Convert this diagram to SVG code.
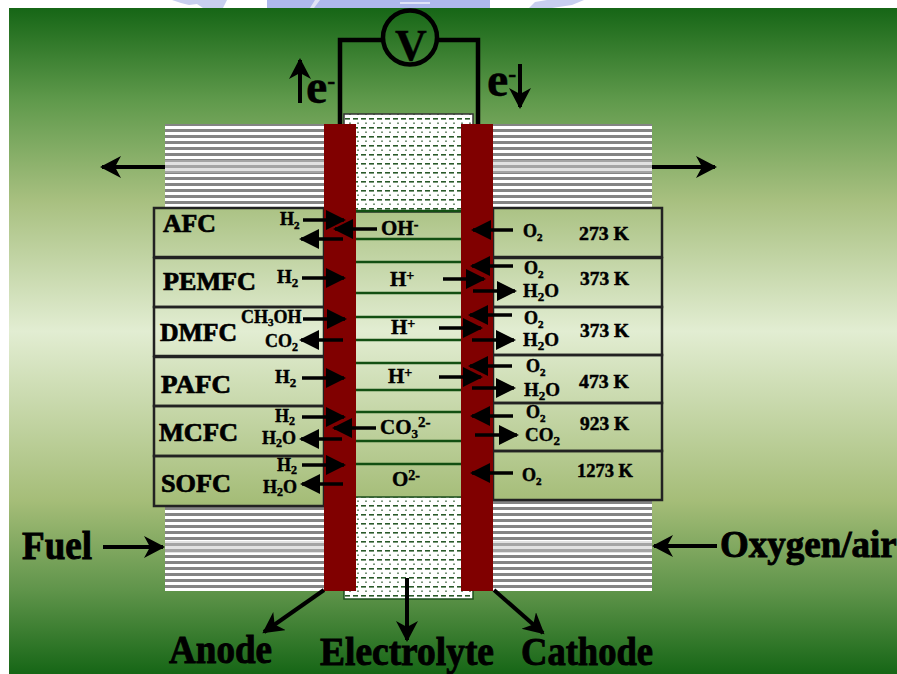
<svg xmlns="http://www.w3.org/2000/svg" width="897" height="674" viewBox="0 0 897 674">
<style>
text{font-family:"Liberation Serif","Times New Roman",serif;font-weight:bold;fill:#000;stroke:#000;stroke-width:.4}
.s{font-size:19px}.c{font-size:21px}.x{font-size:18px}.m{font-size:25px;stroke-width:.7}.l{font-size:39px;stroke-width:.9}.t{font-size:18px;stroke-width:.5}
.n{fill:none;stroke:#000;stroke-width:4.5}
.box{stroke:#222;stroke-width:2.5;fill:none}
.a{stroke:#000;stroke-width:3.5;fill:none;marker-end:url(#h)}
.b{stroke:#000;stroke-width:4;fill:none;marker-end:url(#o)}
</style>
<defs>
<linearGradient id="bg" gradientUnits="userSpaceOnUse" x1="0" y1="8" x2="0" y2="674">
<stop offset="0" stop-color="#166616"/><stop offset=".14" stop-color="#609a4c"/><stop offset=".29" stop-color="#a8c080"/><stop offset=".485" stop-color="#e2edd2"/><stop offset=".74" stop-color="#a5bd78"/><stop offset=".875" stop-color="#5f944a"/><stop offset="1" stop-color="#166616"/>
</linearGradient>
<pattern id="st" width="6" height="6" patternUnits="userSpaceOnUse"><rect width="6" height="6" fill="#fff"/><rect y="3" width="6" height="3" fill="#848484"/></pattern>
<pattern id="dot" width="8" height="9" patternUnits="userSpaceOnUse"><rect width="8" height="9" fill="#fff"/><rect x="1" y="1" width="5" height="1.6" fill="#2a5a2a"/><rect x="5" y="5.5" width="2" height="1.4" fill="#6a8a6a"/></pattern>
<marker id="h" markerUnits="userSpaceOnUse" markerWidth="22" markerHeight="22" refX="18" refY="10" orient="auto"><path d="M0 0L20 10L0 20z" fill="#000"/></marker>
<marker id="o" markerUnits="userSpaceOnUse" markerWidth="24" markerHeight="24" refX="19" refY="11" orient="auto"><path d="M0 0L21 11L0 22L6 11z" fill="#000"/></marker>
</defs>
<rect width="897" height="674" fill="#fff"/>
<g id="watermark"><path d="M172 0h55l-4 8h-20l-6-4-8 1-8-2z" fill="#c8cfef"/><path d="M267 0h223v8H267z" fill="#aeb8ec"/><path d="M315 0h5l-6 8h-4zM400 2h30v2h-30z" fill="#dfe3f6"/><path d="M529 8l6-6 12-2h37l-12 5-20 3z" fill="#c8cfef"/></g>
<rect id="background" x="9" y="8" width="888" height="666" fill="url(#bg)"/>
<g id="gdl-left"><rect x="165" y="124" width="160" height="84" fill="url(#st)"/><rect x="165" y="507" width="160" height="84" fill="url(#st)"/><rect x="165" y="160" width="160" height="13" fill="#c4c4c4" opacity=".5"/><rect x="165" y="541" width="160" height="12" fill="#c4c4c4" opacity=".5"/></g>
<g id="gdl-right"><rect x="492" y="124" width="160" height="84" fill="url(#st)"/><rect x="492" y="500" width="160" height="91" fill="url(#st)"/><rect x="492" y="160" width="160" height="13" fill="#c4c4c4" opacity=".5"/><rect x="492" y="541" width="160" height="12" fill="#c4c4c4" opacity=".5"/></g>
<g id="electrolyte"><rect x="344" y="114" width="129" height="98" fill="url(#dot)" stroke="#333" stroke-width="1.5"/><rect x="344" y="497" width="129" height="102" fill="url(#dot)" stroke="#1c4f1c" stroke-width="1.5"/></g>
<g id="cells">
<rect class="box" x="154" y="208" width="170" height="49"/>
<rect class="box" x="154" y="258" width="170" height="49"/>
<rect class="box" x="154" y="307" width="170" height="49"/>
<rect class="box" x="154" y="357" width="170" height="49"/>
<rect class="box" x="154" y="406" width="170" height="50"/>
<rect class="box" x="154" y="456" width="170" height="50"/>
<rect class="box" x="493" y="208" width="169" height="49"/>
<rect class="box" x="493" y="258" width="169" height="49"/>
<rect class="box" x="493" y="307" width="169" height="48"/>
<rect class="box" x="493" y="355" width="169" height="48"/>
<rect class="box" x="493" y="403" width="169" height="48"/>
<rect class="box" x="493" y="451" width="169" height="49"/>
<path d="M356 211H461M356 239H461M356 262H461M356 293H461M356 317H461M356 340H461M356 363H461M356 390H461M356 412H461M356 441H461M356 464H461" fill="none" stroke="#124f12" stroke-width="2.5"/>
</g>
<g id="anode"><rect x="324" y="124" width="32" height="467" fill="#800000"/></g>
<g id="cathode"><rect x="461" y="124" width="32" height="467" fill="#800000"/></g>
<g id="connectors">
<path class="n" d="M340 124V40H382M437 40H478V124"/>
<path class="b" d="M300 103V60"/>
<path class="b" d="M520 64V107"/>
<path class="b" d="M165 167H102"/>
<path class="b" d="M652 167H715"/>
<path class="b" d="M103 547H163"/>
<path class="b" d="M717 546H654"/>
<path class="b" d="M324 590L264 632"/>
<path class="b" d="M407 578V640"/>
<path class="b" d="M494 590L543 633"/>
<path class="a" d="M303 220H344"/><path class="a" d="M377 229H335"/><path class="a" d="M343 239H301"/><path class="a" d="M513 230H473"/>
<path class="a" d="M302 278H344"/><path class="a" d="M443 279H484"/><path class="a" d="M513 266H472"/><path class="a" d="M473 291H515"/>
<path class="a" d="M303 319H345"/><path class="a" d="M343 340H301"/><path class="a" d="M439 328H481"/><path class="a" d="M512 315H470"/><path class="a" d="M472 340H514"/>
<path class="a" d="M302 378H344"/><path class="a" d="M439 377H481"/><path class="a" d="M512 366H470"/><path class="a" d="M472 388H514"/>
<path class="a" d="M302 417H344"/><path class="a" d="M376 428H334"/><path class="a" d="M342 439H301"/><path class="a" d="M513 416H472"/><path class="a" d="M475 435H517"/>
<path class="a" d="M302 465H344"/><path class="a" d="M343 484H302"/><path class="a" d="M513 473H472"/>
</g>
<g id="voltmeter"><circle cx="410" cy="37.500" r="27" fill="none" stroke="#000" stroke-width="4.500"/><text x="411" y="60" text-anchor="middle" font-size="44">V</text></g>
<g id="labels">
<text x="306" y="103" font-size="48">e<tspan font-size="24" dy="-14">-</tspan></text>
<text x="487" y="96" font-size="48">e<tspan font-size="24" dy="-14">-</tspan></text>
<text class="m" x="163" y="232" textLength="53" lengthAdjust="spacingAndGlyphs">AFC</text><text class="m" x="163" y="290" textLength="93" lengthAdjust="spacingAndGlyphs">PEMFC</text><text class="m" x="160" y="341" textLength="77" lengthAdjust="spacingAndGlyphs">DMFC</text><text class="m" x="161" y="393" textLength="70" lengthAdjust="spacingAndGlyphs">PAFC</text><text class="m" x="159" y="441" textLength="79" lengthAdjust="spacingAndGlyphs">MCFC</text><text class="m" x="161" y="492" textLength="70" lengthAdjust="spacingAndGlyphs">SOFC</text>
<text class="t" x="280" y="225">H<tspan font-size="11" dy="4">2</tspan></text>
<text class="s" x="277" y="283">H<tspan font-size="13" dy="4">2</tspan></text>
<text class="x" x="241" y="323">CH<tspan font-size="11" dy="3">3</tspan><tspan dy="-3">OH</tspan></text>
<text class="x" x="265" y="347">CO<tspan font-size="12" dy="4">2</tspan></text>
<text class="s" x="275" y="383">H<tspan font-size="13" dy="4">2</tspan></text>
<text class="x" x="275" y="422">H<tspan font-size="12" dy="3">2</tspan></text>
<text class="x" x="262" y="444">H<tspan font-size="12" dy="3">2</tspan><tspan dy="-3">O</tspan></text>
<text class="x" x="277" y="471">H<tspan font-size="12" dy="3">2</tspan></text>
<text class="x" x="263" y="493">H<tspan font-size="12" dy="3">2</tspan><tspan dy="-3">O</tspan></text>
<text class="c" x="381" y="235">OH<tspan font-size="14" dy="-6">-</tspan></text>
<text class="c" x="390" y="286">H<tspan font-size="14" dy="-6">+</tspan></text>
<text class="c" x="391" y="334">H<tspan font-size="14" dy="-6">+</tspan></text>
<text class="c" x="388" y="383">H<tspan font-size="14" dy="-6">+</tspan></text>
<text class="c" x="380" y="434">CO<tspan font-size="13" dy="4">3</tspan><tspan font-size="15" dy="-11">2-</tspan></text>
<text class="c" x="392" y="486">O<tspan font-size="14" dy="-6">2-</tspan></text>
<text class="t" x="523" y="237">O<tspan font-size="11" dy="4">2</tspan></text>
<text class="t" x="524" y="274">O<tspan font-size="11" dy="4">2</tspan></text>
<text class="s" x="523" y="297">H<tspan font-size="13" dy="4">2</tspan><tspan dy="-4">O</tspan></text>
<text class="t" x="524" y="324">O<tspan font-size="11" dy="4">2</tspan></text>
<text class="s" x="523" y="346">H<tspan font-size="13" dy="4">2</tspan><tspan dy="-4">O</tspan></text>
<text class="t" x="526" y="372">O<tspan font-size="11" dy="4">2</tspan></text>
<text class="s" x="524" y="396">H<tspan font-size="13" dy="4">2</tspan><tspan dy="-4">O</tspan></text>
<text class="t" x="526" y="418">O<tspan font-size="11" dy="4">2</tspan></text>
<text class="s" x="525" y="441">CO<tspan font-size="13" dy="4">2</tspan></text>
<text class="t" x="522" y="481">O<tspan font-size="11" dy="4">2</tspan></text>
<text class="t" x="579" y="240" textLength="50" lengthAdjust="spacingAndGlyphs">273 K</text><text class="t" x="580" y="285" textLength="49" lengthAdjust="spacingAndGlyphs">373 K</text><text class="t" x="580" y="337" textLength="49" lengthAdjust="spacingAndGlyphs">373 K</text><text class="t" x="579" y="388" textLength="50" lengthAdjust="spacingAndGlyphs">473 K</text><text class="t" x="580" y="430" textLength="49" lengthAdjust="spacingAndGlyphs">923 K</text><text class="t" x="577" y="477" textLength="56" lengthAdjust="spacingAndGlyphs">1273 K</text>
<text class="l" x="22" y="559" textLength="70" lengthAdjust="spacingAndGlyphs">Fuel</text>
<text class="l" x="720" y="557" style="font-size:37px">Oxygen/air</text>
<text class="l" x="169" y="663" textLength="103" lengthAdjust="spacingAndGlyphs">Anode</text>
<text class="l" x="320" y="665" textLength="174" lengthAdjust="spacingAndGlyphs">Electrolyte</text>
<text class="l" x="521" y="665" textLength="132" lengthAdjust="spacingAndGlyphs">Cathode</text>
</g>
</svg>
